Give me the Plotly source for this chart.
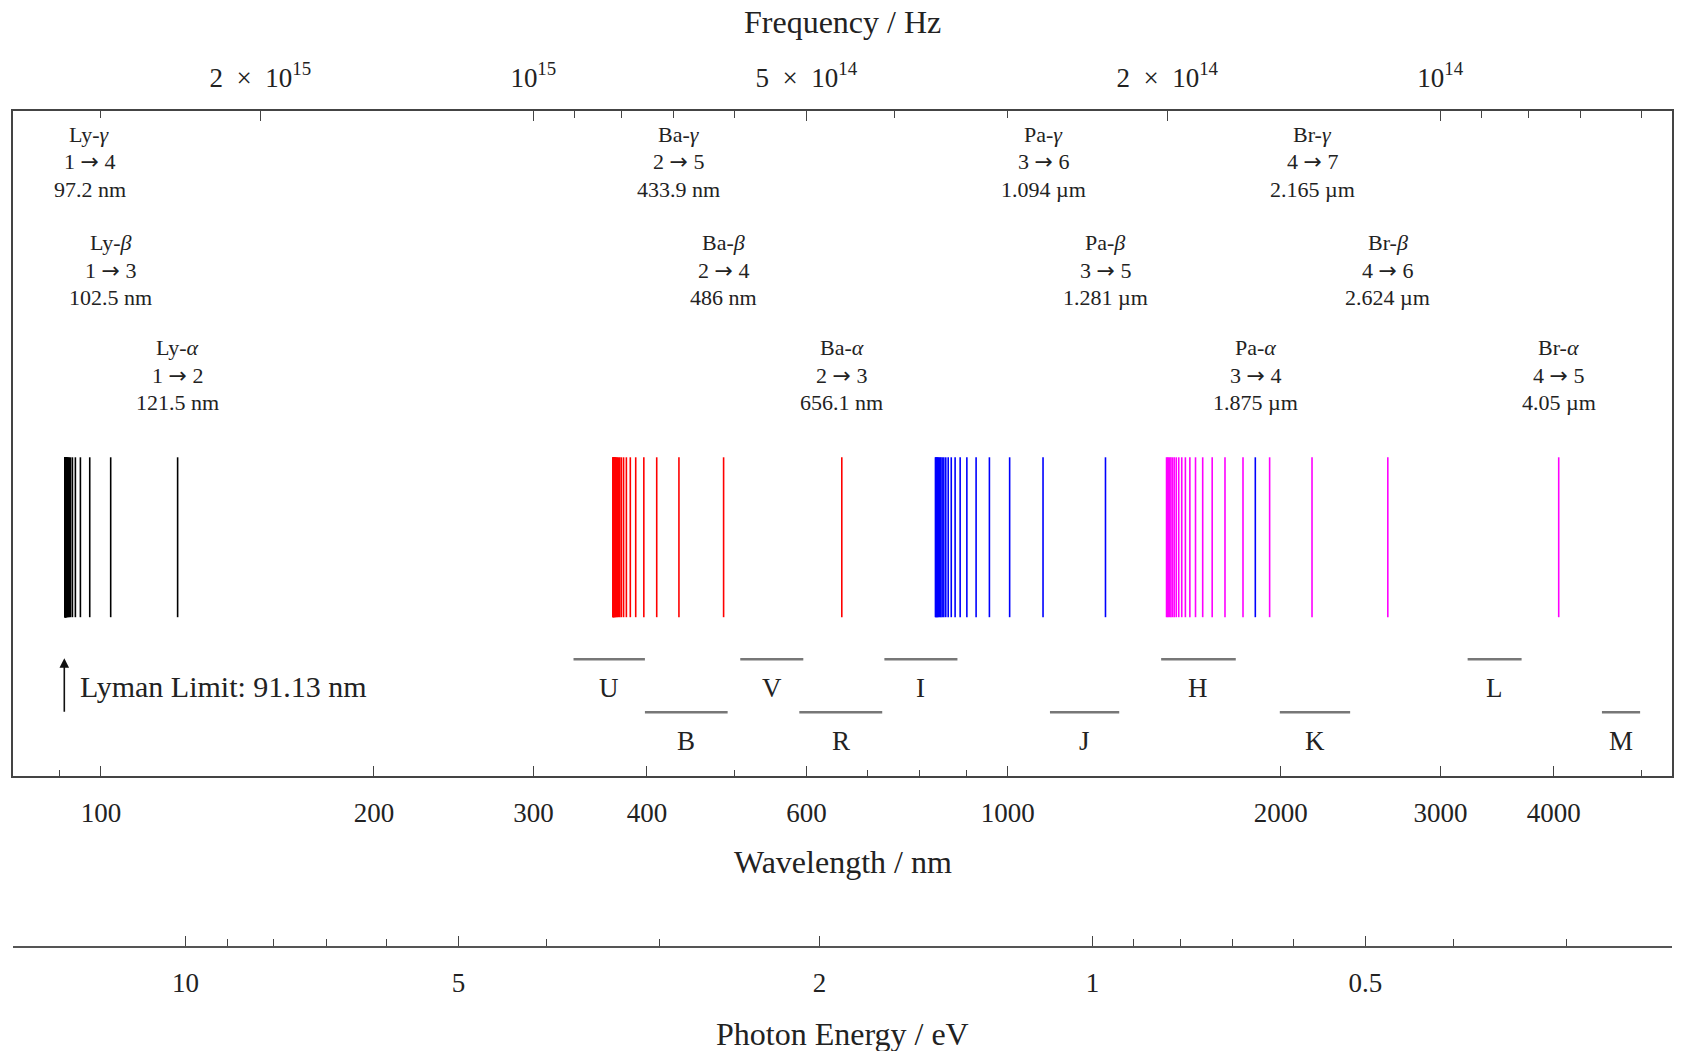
import numpy as np
import plotly.graph_objects as go

# ---------------- data ----------------
# hydrogen spectral lines (nm), n_upper increasing
lyman_nm = [121.51, 102.52, 97.21, 94.93, 93.73, 93.03, 92.58, 92.27, 92.05, 91.89,
            91.77, 91.67, 91.60, 91.54, 91.49, 91.45, 91.41, 91.38, 91.36, 91.34,
            91.32, 91.30, 91.29, 91.28]
balmer_nm = [656.1, 486.0, 433.9, 410.1, 396.9, 388.8, 383.5, 379.7, 377.0, 374.9,
             373.4, 372.1, 371.1, 370.3, 369.6, 369.1, 368.6, 368.2, 367.9, 367.6,
             367.3, 367.1, 366.9]
paschen_nm = [1874.7, 1281.5, 1093.6, 1004.7, 954.4, 922.7, 901.3, 886.1, 874.8, 866.3,
              859.6, 854.3, 850.1, 846.5, 843.6, 841.1, 839.1, 837.3, 835.7, 834.4,
              833.2, 832.2]
brackett_nm = [4050.2, 2624.5, 2165.0, 1944.1, 1817.0, 1735.8, 1680.3, 1640.3, 1610.6,
               1587.7, 1569.7, 1555.3, 1543.5, 1533.8, 1525.7, 1518.8, 1513.0, 1507.9,
               1503.6, 1499.7, 1496.4]
series_names = ["Lyman", "Balmer", "Paschen", "Brackett"]
series_colors = ["#000000", "#ff0000", "#0000ff", "#ff00ff"]

lyman_limit_nm = 91.13

# labelled lines
label_wl_nm = [121.5, 102.5, 97.2, 656.1, 486.0, 433.9, 1875.0, 1281.0, 1094.0, 4050.0, 2624.0, 2165.0]
label_name = ["Ly-<i>α</i>", "Ly-<i>β</i>", "Ly-<i>γ</i>",
              "Ba-<i>α</i>", "Ba-<i>β</i>", "Ba-<i>γ</i>",
              "Pa-<i>α</i>", "Pa-<i>β</i>", "Pa-<i>γ</i>",
              "Br-<i>α</i>", "Br-<i>β</i>", "Br-<i>γ</i>"]
label_lower = [1, 1, 1, 2, 2, 2, 3, 3, 3, 4, 4, 4]
label_upper = [2, 3, 4, 3, 4, 5, 4, 5, 6, 5, 6, 7]
label_value = ["121.5 nm", "102.5 nm", "97.2 nm", "656.1 nm", "486 nm", "433.9 nm",
               "1.875 µm", "1.281 µm", "1.094 µm", "4.05 µm", "2.624 µm", "2.165 µm"]
label_row = [0, 1, 2, 0, 1, 2, 0, 1, 2, 0, 1, 2]

# photometric bands (nm)
band_names = ["U", "B", "V", "R", "I", "J", "H", "K", "L", "M"]
band_lo_nm = [332, 398, 507, 589, 731, 1113, 1476, 1995, 3214, 4520]
band_hi_nm = [398, 491, 595, 727, 880, 1327, 1784, 2385, 3686, 4980]
band_row = [0, 1, 0, 1, 0, 1, 0, 1, 0, 1]

# axes
wl_range_nm = [80.0, 5400.0]
wl_major = [100, 200, 300, 400, 600, 1000, 2000, 3000, 4000]
wl_major_text = ["100", "200", "300", "400", "600", "1000", "2000", "3000", "4000"]
wl_minor = [90, 500, 700, 800, 900, 5000]

freq_major = [2e15, 1e15, 5e14, 2e14, 1e14]
freq_major_text = ["2\u2002×\u200210<sup>15</sup>", "10<sup>15</sup>", "5\u2002×\u200210<sup>14</sup>",
                   "2\u2002×\u200210<sup>14</sup>", "10<sup>14</sup>"]
freq_minor = [3e15, 9e14, 8e14, 7e14, 6e14, 4e14, 3e14, 9e13, 8e13, 7e13, 6e13]

energy_major = [10, 5, 2, 1, 0.5]
energy_major_text = ["10", "5", "2", "1", "0.5"]
energy_minor = [9, 8, 7, 6, 4, 3, 0.9, 0.8, 0.7, 0.6, 0.4, 0.3]

C_NM_HZ = 299792458.0e9   # speed of light in nm/s
HC_EV_NM = 1239.84198

# ---------------- style / layout (page pixels) ----------------
PAGE_W, PAGE_H = 1683, 1051
OFF = 8                       # default page margin around the plot div
W, H = PAGE_W - 2 * OFF, PAGE_H - OFF
DECADE_PX = 907
BOX_L, BOX_T, BOX_B = 13, 110.5, 776
BOX_R = BOX_L + DECADE_PX * np.log10(wl_range_nm[1] / wl_range_nm[0])
ENERGY_LINE = 947

M_L = BOX_L - OFF
M_R = W - (BOX_R - OFF)
M_T = BOX_T - OFF
M_B = H - (ENERGY_LINE - OFF)
PAPER_H = ENERGY_LINE - BOX_T
Y_DOM0 = (ENERGY_LINE - BOX_B) / PAPER_H
BOX_H = BOX_B - BOX_T


def ybox(px):
    """page pixel row -> y in the box (0 bottom, 1 top)"""
    return (BOX_B - px) / BOX_H


def ypaper(px):
    return (ENERGY_LINE - px) / PAPER_H


FONT = "Liberation Serif"
TXT = "#222222"
AX = "#444444"
LINE_Y = [ybox(617), ybox(457)]
ROW_PX = [(347, 375, 402), (242, 270, 297), (134, 161, 189)]
BAND_Y = [ybox(659), ybox(712)]
BAND_LABEL_Y = [ybox(687.5), ybox(740.5)]
ARROW = '<span style="font-family:DejaVu Sans">→</span>'

fig = go.Figure()

for wl, name, col in zip([lyman_nm, balmer_nm, paschen_nm, brackett_nm], series_names, series_colors):
    xs, ys = [], []
    for w in wl:
        xs += [w, w, None]
        ys += [LINE_Y[0], LINE_Y[1], None]
    fig.add_trace(go.Scatter(x=xs, y=ys, mode="lines", name=name,
                             line=dict(color=col, width=1.6),
                             hoverinfo="skip", showlegend=False, xaxis="x", yaxis="y"))

bx, by = [], []
for lo, hi, r in zip(band_lo_nm, band_hi_nm, band_row):
    bx += [lo, hi, None]
    by += [BAND_Y[r], BAND_Y[r], None]
fig.add_trace(go.Scatter(x=bx, y=by, mode="lines", line=dict(color="#777777", width=2.5),
                         hoverinfo="skip", showlegend=False, xaxis="x", yaxis="y"))

# dummy traces so the secondary axes are drawn
fig.add_trace(go.Scatter(x=freq_major, y=[None] * len(freq_major), mode="markers",
                         xaxis="x2", yaxis="y", showlegend=False, hoverinfo="skip"))
fig.add_trace(go.Scatter(x=energy_major, y=[None] * len(energy_major), mode="markers",
                         xaxis="x3", yaxis="y", showlegend=False, hoverinfo="skip"))

annotations = []
lab_font = dict(family=FONT, size=22, color=TXT)
for wl, nm, lo, up, val, r in zip(label_wl_nm, label_name, label_lower, label_upper, label_value, label_row):
    texts = [nm, f"{lo} {ARROW} {up}", val]
    for t, py in zip(texts, ROW_PX[r]):
        annotations.append(dict(x=np.log10(wl), y=ybox(py), xref="x", yref="y",
                                text=t, showarrow=False, xanchor="center", yanchor="middle",
                                font=lab_font))

for name, lo, hi, r in zip(band_names, band_lo_nm, band_hi_nm, band_row):
    annotations.append(dict(x=(np.log10(lo) + np.log10(hi)) / 2, y=BAND_LABEL_Y[r],
                            xref="x", yref="y", text=name, showarrow=False,
                            xanchor="center", yanchor="middle",
                            font=dict(family=FONT, size=27, color=TXT)))

# Lyman limit arrow + text
annotations.append(dict(x=np.log10(lyman_limit_nm), y=ybox(658), ax=np.log10(lyman_limit_nm), ay=ybox(713),
                        xref="x", yref="y", axref="x", ayref="y", text="", showarrow=True,
                        arrowhead=2, arrowsize=1.2, arrowwidth=1.6, arrowcolor="#111111"))
annotations.append(dict(x=np.log10(lyman_limit_nm), y=ybox(686), xref="x", yref="y",
                        text=f"Lyman Limit: {lyman_limit_nm:.2f} nm", showarrow=False,
                        xanchor="left", yanchor="middle", xshift=14,
                        font=dict(family=FONT, size=30, color=TXT)))

# axis titles
title_font = dict(family=FONT, size=32, color=TXT)
annotations.append(dict(x=0.5, y=ypaper(21.5), xref="paper", yref="paper", text="Frequency / Hz",
                        showarrow=False, xanchor="center", yanchor="middle", font=title_font))
annotations.append(dict(x=0.5, y=ypaper(861.5), xref="paper", yref="paper", text="Wavelength / nm",
                        showarrow=False, xanchor="center", yanchor="middle", font=title_font))
annotations.append(dict(x=0.5, y=ypaper(1034), xref="paper", yref="paper", text="Photon Energy / eV",
                        showarrow=False, xanchor="center", yanchor="middle", font=title_font))

tickfont = dict(family=FONT, size=27, color=TXT)
wl_log_range = [np.log10(wl_range_nm[0]), np.log10(wl_range_nm[1])]
freq_log_range = [np.log10(C_NM_HZ / wl_range_nm[0]), np.log10(C_NM_HZ / wl_range_nm[1])]
en_log_range = [np.log10(HC_EV_NM / wl_range_nm[0]), np.log10(HC_EV_NM / wl_range_nm[1])]


def minor(vals):
    return dict(tickmode="array", tickvals=vals, ticks="inside",
                ticklen=6.5, tickwidth=1.4, tickcolor=AX, showgrid=False)


fig.update_layout(
    template="none",
    width=W, height=H,
    margin=dict(l=M_L, r=M_R, t=M_T, b=M_B, autoexpand=False),
    paper_bgcolor="white", plot_bgcolor="white",
    showlegend=False,
    xaxis=dict(type="log", range=wl_log_range, domain=[0, 1], anchor="y", side="bottom",
               automargin=False,
               showline=True, linecolor=AX, linewidth=2, mirror=True,
               showgrid=False, zeroline=False,
               ticks="inside", ticklen=10, tickwidth=1.4, tickcolor=AX,
               tickmode="array", tickvals=wl_major, ticktext=wl_major_text,
               tickfont=tickfont, ticklabelstandoff=11, minor=minor(wl_minor)),
    xaxis2=dict(type="log", range=freq_log_range, overlaying="x", anchor="y", side="top",
                automargin=False,
                showline=False, showgrid=False, zeroline=False,
                ticks="inside", ticklen=10, tickwidth=1.4, tickcolor=AX,
                tickmode="array", tickvals=freq_major, ticktext=freq_major_text,
                tickfont=tickfont, ticklabelstandoff=18, minor=minor(freq_minor)),
    xaxis3=dict(type="log", range=en_log_range, overlaying="x", anchor="free", position=0,
                side="bottom", automargin=False,
                showline=True, linecolor="#555555", linewidth=2.4,
                showgrid=False, zeroline=False,
                ticks="inside", ticklen=10, tickwidth=1.4, tickcolor=AX,
                tickmode="array", tickvals=energy_major, ticktext=energy_major_text,
                tickfont=tickfont, ticklabelstandoff=11, minor=minor(energy_minor)),
    yaxis=dict(range=[0, 1], domain=[Y_DOM0, 1], automargin=False,
               showline=True, linecolor=AX, linewidth=2,
               mirror=True, showgrid=False, zeroline=False, showticklabels=False, ticks=""),
    annotations=annotations,
)

fig.write_html("out.html")
